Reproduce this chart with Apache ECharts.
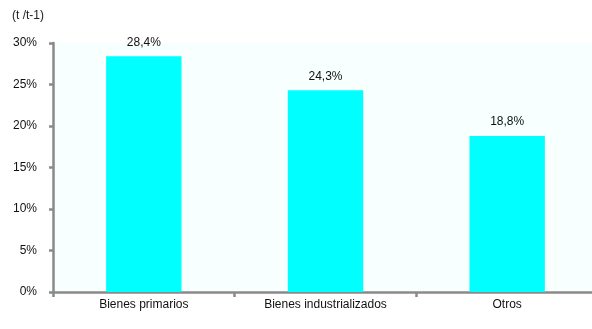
<!DOCTYPE html>
<html><head><meta charset="utf-8">
<script src="https://cdn.jsdelivr.net/npm/echarts@6/dist/echarts.min.js"></script>
<style>html,body{margin:0;padding:0;background:#fff;overflow:hidden}#c{width:598px;height:329px}</style>
</head><body><div id="c"></div>
<script>
const categories = ["Bienes primarios", "Bienes industrializados", "Otros"];
const values = [28.4, 24.3, 18.8];
const yTicks = [0, 5, 10, 15, 20, 25, 30];
const unitLabel = "(t /t-1)";

const chart = echarts.init(document.getElementById('c'), null, {renderer: 'canvas'});
const axisGrey = '#8a8a8a';
const font = 'Liberation Sans, Arial, sans-serif';
chart.setOption({
  animation: false,
  graphic: [{type: 'text', left: 12, top: 10, style: {text: unitLabel, font: '12px ' + font, fill: '#222'}}],
  grid: {left: 53, right: 0, top: 43, bottom: 37, show: true, backgroundColor: '#f7ffff', borderWidth: 0},
  xAxis: {
    type: 'category', data: categories,
    axisLine: {lineStyle: {color: axisGrey, width: 2.5}},
    axisTick: {show: true, length: 5, lineStyle: {color: axisGrey, width: 2.5}},
    axisLabel: {color: '#111', fontSize: 12, fontFamily: font, margin: 7}
  },
  yAxis: {
    type: 'value', min: yTicks[0], max: yTicks[yTicks.length - 1], interval: 5,
    splitLine: {show: false},
    axisLine: {show: true, lineStyle: {color: axisGrey, width: 2.5}},
    axisTick: {show: true, length: 4, lineStyle: {color: axisGrey, width: 2.5}},
    axisLabel: {color: '#111', fontSize: 12, fontFamily: font, margin: 16, formatter: v => v + '%'}
  },
  series: [{
    type: 'bar', data: values, barWidth: '41.5%',
    itemStyle: {color: '#00ffff'},
    label: {show: true, position: 'top', distance: 8, color: '#111', fontSize: 12, fontFamily: font,
      formatter: p => p.value.toFixed(1).replace('.', ',') + '%'}
  }]
});
</script></body></html>
